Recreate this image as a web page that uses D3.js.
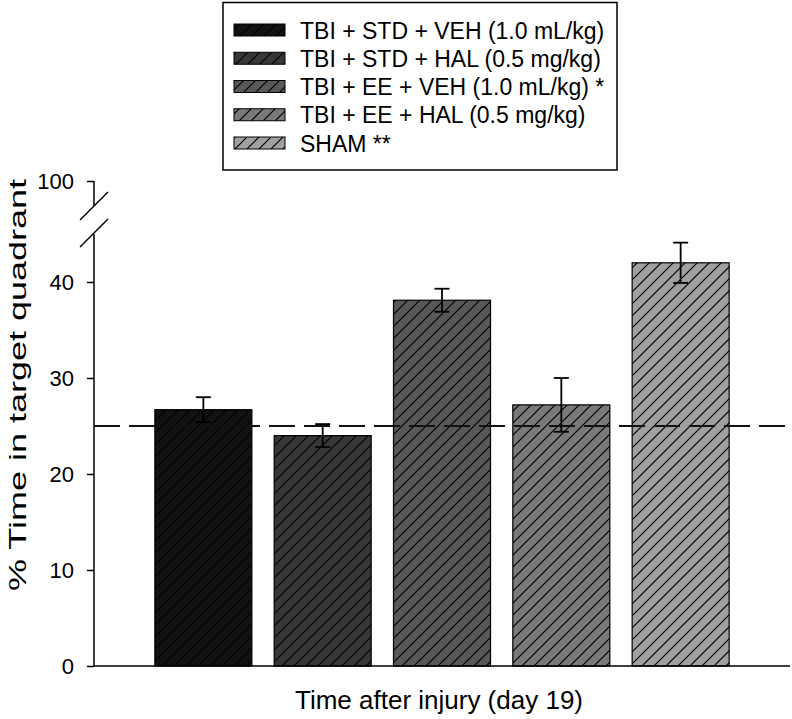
<!DOCTYPE html>
<html>
<head>
<meta charset="utf-8">
<script src="https://cdn.jsdelivr.net/npm/d3@7/dist/d3.min.js"></script>
<style>
  html, body { margin: 0; padding: 0; background: #fff; }
  svg { display: block; font-family: "Liberation Sans", Arial, sans-serif; }
</style>
</head>
<body>
<svg id="chart" width="792" height="719"></svg>
<script>
// ---- data ----
const categories = [
  "TBI + STD + VEH (1.0 mL/kg)",
  "TBI + STD + HAL (0.5 mg/kg)",
  "TBI + EE + VEH (1.0 mL/kg) *",
  "TBI + EE + HAL (0.5 mg/kg)",
  "SHAM **"
];
const means = [26.7, 24.0, 38.1, 27.2, 42.0];
const errors = [1.3, 1.2, 1.2, 2.8, 2.1];
const fills = ["#121212", "#383838", "#585858", "#7a7a7a", "#a0a0a0"];
const lowerTicks = [0, 10, 20, 30, 40];
const upperTicks = [100];
const chanceLevel = 25;
const xTitle = "Time after injury (day 19)";
const yTitle = "% Time in target quadrant";

// ---- layout ----
const svg = d3.select("#chart");
const axisX = 94, axisRight = 790, baseY = 666;

const x = d3.scaleBand().domain(categories).range([axisX, axisRight])
  .paddingInner(0.187).paddingOuter(0.51);
const y = d3.scaleLinear().domain([0, 45]).range([baseY, 234]);
const yUp = d3.scaleLinear().domain([95, 100]).range([229, 181]);

// hatch patterns
const defs = svg.append("defs");
fills.forEach((c, i) => {
  const p = defs.append("pattern").attr("id", "hatch" + i)
    .attr("patternUnits", "userSpaceOnUse").attr("width", 12).attr("height", 12);
  p.append("rect").attr("width", 12).attr("height", 12).attr("fill", c);
  p.append("path").attr("d", "M-3,3 L3,-3 M0,12 L12,0 M9,15 L15,9")
    .attr("stroke", "#000").attr("stroke-width", 1.2);
});

// bars
svg.append("g").selectAll("rect").data(categories).join("rect")
  .attr("x", d => x(d))
  .attr("y", (d, i) => y(means[i]))
  .attr("width", x.bandwidth())
  .attr("height", (d, i) => y(0) - y(means[i]))
  .attr("fill", (d, i) => `url(#hatch${i})`)
  .attr("stroke", "#000").attr("stroke-width", 1.2);

// dashed chance line
svg.append("line")
  .attr("x1", axisX).attr("x2", axisRight)
  .attr("y1", y(chanceLevel)).attr("y2", y(chanceLevel))
  .attr("stroke", "#111").attr("stroke-width", 2)
  .attr("stroke-dasharray", "26,9");

// error bars
const eg = svg.append("g").attr("stroke", "#000").attr("stroke-width", 1.8);
categories.forEach((c, i) => {
  const cx = x(c) + x.bandwidth() / 2;
  const top = y(means[i] + errors[i]), bot = y(means[i] - errors[i]);
  eg.append("line").attr("x1", cx).attr("x2", cx).attr("y1", top).attr("y2", bot);
  eg.append("line").attr("x1", cx - 7.5).attr("x2", cx + 7.5).attr("y1", top).attr("y2", top);
  eg.append("line").attr("x1", cx - 7.5).attr("x2", cx + 7.5).attr("y1", bot).attr("y2", bot);
});

// axes
const yAxisG = svg.append("g").attr("transform", `translate(${axisX},0)`)
  .call(d3.axisLeft(y).tickValues(lowerTicks).tickSize(7).tickPadding(13).tickFormat(d3.format("d")));
yAxisG.select(".domain").remove();
yAxisG.append("line").attr("x1", 0).attr("x2", 0)
  .attr("y1", y(0)).attr("y2", y.range()[1]).attr("stroke", "#000").attr("stroke-width", 1.5);

const yUpG = svg.append("g").attr("transform", `translate(${axisX},0)`)
  .call(d3.axisLeft(yUp).tickValues(upperTicks).tickSize(7).tickPadding(13).tickFormat(d3.format("d")));
yUpG.select(".domain").remove();
yUpG.append("line").attr("x1", 0).attr("x2", 0)
  .attr("y1", yUp(100)).attr("y2", 206).attr("stroke", "#000").attr("stroke-width", 1.5);

[yAxisG, yUpG].forEach(g => {
  g.selectAll(".tick line").attr("stroke", "#000").attr("stroke-width", 1.5);
  g.selectAll(".tick text").attr("font-size", 22).attr("fill", "#000")
    .attr("font-family", "Liberation Sans, Arial, sans-serif");
});

// break marks
const br = svg.append("g").attr("stroke", "#000").attr("stroke-width", 1.5);
br.append("line").attr("x1", 80).attr("y1", 220).attr("x2", 108).attr("y2", 192);
br.append("line").attr("x1", 80).attr("y1", 247).attr("x2", 108).attr("y2", 219);

// x axis line
svg.append("line").attr("x1", axisX).attr("x2", axisRight)
  .attr("y1", baseY).attr("y2", baseY).attr("stroke", "#000").attr("stroke-width", 1.5);

// titles
svg.append("text").attr("x", 439).attr("y", 709)
  .attr("text-anchor", "middle").attr("font-size", 26).text(xTitle);
svg.append("text")
  .attr("transform", "translate(26,385) rotate(-90)")
  .attr("text-anchor", "middle").attr("font-size", 24)
  .attr("textLength", 412).attr("lengthAdjust", "spacingAndGlyphs")
  .text(yTitle);

// legend
const lg = svg.append("g");
lg.append("rect").attr("x", 223).attr("y", 2.5).attr("width", 394).attr("height", 167.5)
  .attr("fill", "#fff").attr("stroke", "#000").attr("stroke-width", 1.5);
const legY = d3.scalePoint().domain(categories).range([24, 137]);
categories.forEach((c, i) => {
  lg.append("rect").attr("x", 234).attr("y", legY(c)).attr("width", 51).attr("height", 12)
    .attr("fill", `url(#hatch${i})`).attr("stroke", "#000").attr("stroke-width", 1);
  lg.append("text").attr("x", 300).attr("y", legY(c) + 14.5)
    .attr("font-size", 23).text(c);
});
</script>
</body>
</html>
